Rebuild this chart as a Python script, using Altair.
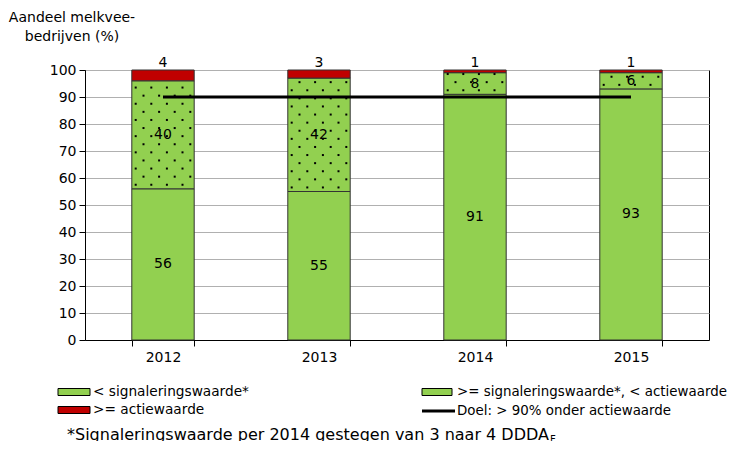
import altair as alt
import pandas as pd

# ---- data ----
years = ["2012", "2013", "2014", "2015"]
below_signal = [56, 55, 91, 93]      # < signaleringswaarde*
between = [40, 42, 8, 6]             # >= signaleringswaarde*, < actiewaarde
above_action = [4, 3, 1, 1]          # >= actiewaarde
target_value = 90                    # Doel: > 90% onder actiewaarde

FONT = "DejaVu Sans"
GREEN = "#92D050"
RED = "#C00000"

rows = []
for yr, a, b, c in zip(years, below_signal, between, above_action):
    rows.append(dict(year=yr, cat="low", y0=0, y1=a, label=str(a)))
    rows.append(dict(year=yr, cat="mid", y0=a, y1=a + b, label=str(b)))
    rows.append(dict(year=yr, cat="high", y0=a + b, y1=a + b + c, label=str(c)))
df = pd.DataFrame(rows)

# dot texture for the middle segment (pattern fill)
N_COLS = 8
dots = []
for yr, a, b in zip(years, below_signal, between):
    v = a + 1.5
    r = 0
    while v < a + b:
        for col in range(r % 2, N_COLS, 2):
            dots.append(dict(year=yr, v=v, col=col))
        v += 3
        r += 1
dots_df = pd.DataFrame(dots)

target_df = pd.DataFrame({"year": years, "v": [target_value] * len(years)})

x_axis = alt.Axis(
    title=None, labelAngle=0, tickBand="extent", grid=False,
    labelFont=FONT, labelFontSize=14, labelColor="black",
    domainColor="black", tickColor="black", tickSize=6, labelPadding=4,
)
x_scale = alt.Scale(paddingInner=0.6, paddingOuter=0.3)
y_scale = alt.Scale(domain=[0, 100], nice=False)
y_axis = alt.Axis(
    title=None, values=list(range(0, 101, 10)), grid=True, gridColor="#b0b0b0",
    labelFont=FONT, labelFontSize=14, labelColor="black",
    domainColor="black", tickColor="black", tickSize=6, labelPadding=3,
)


def X(**kw):
    return alt.X("year:N", sort=years, scale=x_scale, axis=x_axis, **kw)


def Y(field):
    return alt.Y(field, scale=y_scale, axis=y_axis)


bars = alt.Chart(df).mark_bar(stroke="#333333", strokeWidth=1).encode(
    x=X(),
    y=Y("y0:Q"),
    y2="y1:Q",
    color=alt.Color("cat:N", scale=alt.Scale(domain=["low", "mid", "high"],
                                             range=[GREEN, GREEN, RED]), legend=None),
)

dot_layers = [
    alt.Chart(dots_df).transform_filter(f"datum.col == {c}").mark_square(
        size=4, color="black", opacity=1
    ).encode(
        x=X(bandPosition=(c + 0.5) / N_COLS),
        y=Y("v:Q"),
    )
    for c in range(N_COLS)
]

inner_labels = alt.Chart(df).transform_filter(
    "datum.cat != 'high'"
).transform_calculate(
    ym="(datum.y0 + datum.y1) / 2"
).mark_text(font=FONT, fontSize=14, color="black", baseline="middle").encode(
    x=X(),
    y=Y("ym:Q"),
    text="label:N",
)

top_labels = alt.Chart(df).transform_filter(
    "datum.cat == 'high'"
).mark_text(font=FONT, fontSize=14, color="black", baseline="bottom", dy=0).encode(
    x=X(),
    y=Y("y1:Q"),
    text="label:N",
)

target_line = alt.Chart(target_df).mark_line(color="black", strokeWidth=3).encode(
    x=X(),
    y=Y("v:Q"),
)

one = pd.DataFrame({"k": [0]})

y_title = alt.Chart(one).mark_text(
    font=FONT, fontSize=14, color="black", align="center", baseline="middle", lineHeight=19
).encode(
    x=alt.value(-13), y=alt.value(-52),
    text=alt.value(["Aandeel melkvee-", "bedrijven (%)"]),
)


def swatch(x0, x1, yc, fill):
    return alt.Chart(one).mark_rect(fill=fill, stroke="black", strokeWidth=1).encode(
        x=alt.value(x0), x2=alt.value(x1), y=alt.value(yc - 3.5), y2=alt.value(yc + 3.5)
    )


def legend_text(x0, yc, txt, size=13.7, baseline="middle"):
    return alt.Chart(one).mark_text(
        font=FONT, fontSize=size, color="black", align="left", baseline=baseline
    ).encode(x=alt.value(x0), y=alt.value(yc), text=alt.value(txt))


leg_line = alt.Chart(one).mark_rule(color="black", strokeWidth=3).encode(
    x=alt.value(337), x2=alt.value(370), y=alt.value(341)
)

legend = [
    swatch(-27, 5, 322, GREEN),
    legend_text(8, 322, "< signaleringswaarde*"),
    swatch(-27, 5, 340, RED),
    legend_text(8, 340, ">= actiewaarde"),
    swatch(337, 367, 322, GREEN),
    legend_text(372, 322, ">= signaleringswaarde*, < actiewaarde", 13.4),
    leg_line,
    legend_text(372, 341, "Doel: > 90% onder actiewaarde", 13.4),
    legend_text(-18, 370, "*Signaleringswaarde per 2014 gestegen van 3 naar 4 DDDA", 16, "alphabetic"),
    legend_text(465, 373, "F", 10, "alphabetic"),
]

chart = alt.layer(
    bars, *dot_layers, inner_labels, top_labels, target_line, y_title, *legend
).properties(
    width=624, height=270,
    padding={"left": 77, "top": 62, "right": 28, "bottom": 101},
    autosize=alt.AutoSizeParams(type="none"),
).configure_view(
    stroke="black", strokeWidth=1
)

chart.save("out.html", embed_options={"renderer": "svg", "actions": False})
